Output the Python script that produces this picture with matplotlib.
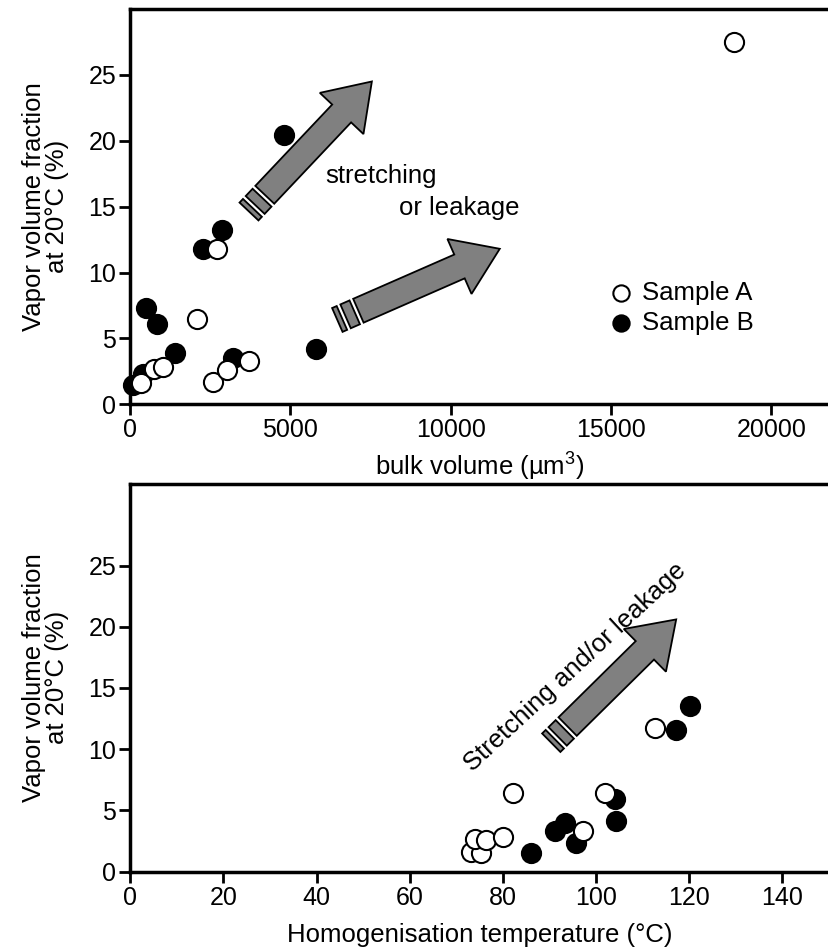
import numpy as np
import matplotlib.pyplot as plt
from matplotlib.patches import Polygon
from matplotlib.transforms import IdentityTransform

plt.rcParams['font.family'] = ['Liberation Sans', 'DejaVu Sans']
plt.rcParams['mathtext.fontset'] = 'custom'
plt.rcParams['mathtext.rm'] = 'Liberation Sans'
plt.rcParams['mathtext.default'] = 'regular'

# top panel: bulk volume (um3) vs vapour fraction (%)
bulk_a = [330, 750, 1030, 2090, 2570, 3030, 3710, 2700, 18830]
vap_a = [1.6, 2.7, 2.8, 6.5, 1.7, 2.6, 3.3, 11.8, 27.5]
bulk_b = [100, 410, 480, 830, 1400, 3210, 5790, 2260, 2880, 4800]
vap_b = [1.5, 2.3, 7.3, 6.1, 3.9, 3.5, 4.2, 11.8, 13.2, 20.4]

# bottom panel: homogenisation temperature (C) vs vapour fraction (%)
th_a = [73.1, 75.3, 74.1, 76.4, 80.0, 82.1, 97.1, 101.9, 112.6]
vapt_a = [1.6, 1.5, 2.7, 2.6, 2.8, 6.4, 3.3, 6.4, 11.7]
th_b = [86.1, 91.2, 93.4, 95.6, 104.1, 104.3, 117.2, 120.2]
vapt_b = [1.5, 3.3, 4.0, 2.3, 5.9, 4.1, 11.6, 13.5]

ylabel = 'Vapor volume fraction\nat 20°C (%)'
FS = 18.5
GREY = '#808080'


def fat_arrow(ax, tail, head, shaft=26, head_w=60, head_len=44):
    # block arrow with two cut stripes behind the tail, built in pixels
    p0 = ax.transData.transform(tail)
    p1 = ax.transData.transform(head)
    L = np.hypot(*(p1 - p0))
    u = (p1 - p0) / L
    n = np.array([-u[1], u[0]])
    s, h = shaft / 2, head_w / 2
    body = [p0 + n * s, p0 + u * (L - head_len) + n * s,
            p0 + u * (L - head_len) + n * h, p1,
            p0 + u * (L - head_len) - n * h,
            p0 + u * (L - head_len) - n * s, p0 - n * s]
    ax.add_patch(Polygon(body, closed=True, fc=GREY, ec='black', lw=1.3,
                         transform=IdentityTransform(), clip_on=False, zorder=1))
    for a, b in [(4, 14), (18, 23)]:
        q = [p0 - u * a + n * s, p0 - u * b + n * s,
             p0 - u * b - n * s, p0 - u * a - n * s]
        ax.add_patch(Polygon(q, closed=True, fc=GREY, ec='black', lw=1.3,
                             transform=IdentityTransform(), clip_on=False, zorder=1))


def style(ax):
    ax.spines['right'].set_visible(False)
    for sp in ['top', 'left', 'bottom']:
        ax.spines[sp].set_linewidth(2.5)
    ax.tick_params(direction='out', length=8, width=2, labelsize=18, pad=2)


fig = plt.figure(figsize=(8.29, 9.49), dpi=100)

ax1 = fig.add_axes([0.157, 0.574, 0.843, 0.4165])
ax1.set_xlim(0, 21800)
ax1.set_ylim(0, 30)
ax1.set_xticks([0, 5000, 10000, 15000, 20000])
ax1.set_yticks([0, 5, 10, 15, 20, 25])
style(ax1)
ax1.scatter(bulk_a, vap_a, s=190, facecolor='white', edgecolor='black', lw=1.5,
            label='Sample A', zorder=3, clip_on=False)
ax1.scatter(bulk_b, vap_b, s=190, facecolor='black', edgecolor='black', lw=1.5,
            label='Sample B', zorder=2, clip_on=False)
ax1.set_xlabel('bulk volume (µm$^3$)', fontsize=FS, labelpad=6)
ax1.set_ylabel(ylabel, fontsize=FS, labelpad=14, linespacing=0.95)
ax1.legend(loc='center left', bbox_to_anchor=(0.688, 0.244), frameon=False,
           fontsize=FS, handlelength=0.8, handletextpad=0.4, labelspacing=0.22,
           markerscale=0.85, borderpad=0, borderaxespad=0)
ax1.text(6100, 17.3, 'stretching', fontsize=FS, va='center', ha='left')
ax1.text(8380, 14.9, 'or leakage', fontsize=FS, va='center', ha='left')

ax2 = fig.add_axes([0.157, 0.0815, 0.843, 0.409])
ax2.set_xlim(0, 150)
ax2.set_ylim(0, 31.7)
ax2.set_xticks(np.arange(0, 141, 20))
ax2.set_yticks([0, 5, 10, 15, 20, 25])
style(ax2)
ax2.scatter(th_a, vapt_a, s=190, facecolor='white', edgecolor='black', lw=1.5,
            zorder=3, clip_on=False)
ax2.scatter(th_b, vapt_b, s=190, facecolor='black', edgecolor='black', lw=1.5,
            zorder=2, clip_on=False)
ax2.set_xlabel('Homogenisation temperature (°C)', fontsize=FS, labelpad=10)
ax2.set_ylabel(ylabel, fontsize=FS, labelpad=14, linespacing=0.95)
ax2.text(95.5, 16.7, 'Stretching and/or leakage', fontsize=FS, rotation=43,
         ha='center', va='center', rotation_mode='anchor')

fat_arrow(ax1, (4200, 15.9), (7540, 24.5))
fat_arrow(ax1, (7120, 7.1), (11530, 11.8))
fat_arrow(ax2, (93.9, 11.85), (117.2, 20.6))

fig.savefig('out.png', dpi=100)
